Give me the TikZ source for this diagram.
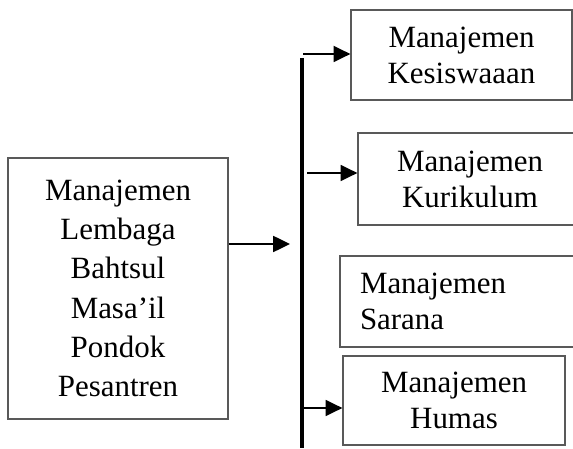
\documentclass[tikz,border=0pt]{standalone}
\usepackage{fontspec}
\setmainfont{Liberation Serif}
\usetikzlibrary{arrows.meta}
\tikzset{
  unitbox/.style={draw=black!65, line width=0.9pt, align=center, inner sep=0pt,
    font=\fontsize{22}{25.5}\selectfont},
  link/.style={line width=1.3pt, -{Triangle[length=0.42cm,width=0.4cm]}}
}

\begin{document}
\begin{tikzpicture}
  \useasboundingbox (0,0) rectangle (14.325,11.2);
  \node[unitbox, minimum width=5.5cm, minimum height=6.525cm,
    font=\fontsize{22}{28}\selectfont] (lembaga) at (2.95,3.9875)
    {Manajemen\\Lembaga\\Bahtsul\\Masa’il\\Pondok\\Pesantren};
  \node[unitbox, minimum width=5.525cm, minimum height=2.25cm] (kesiswaan) at (11.5375,9.825) {Manajemen\\Kesiswaaan};
  \node[unitbox, minimum width=5.6cm, minimum height=2.3cm] (kurikulum) at (11.75,6.725) {Manajemen\\Kurikulum};
  \node[unitbox, minimum width=6.25cm, minimum height=2.275cm, text width=5.25cm,
    inner xsep=0.5cm, align=left] (sarana) at (11.625,3.6625) {Manajemen\\Sarana};
  \node[unitbox, minimum width=5.55cm, minimum height=2.225cm] (humas) at (11.35,1.1875) {Manajemen\\Humas};
  % bus line
  \coordinate (bustop) at (7.55,9.75);
  \coordinate (busbot) at (7.55,0);
  \draw[line width=2.2pt] (bustop) -- (busbot);
  \coordinate (in) at (7.25,5.1);
  \draw[link] (lembaga.east |- in) -- (in);
  \coordinate (k1) at (7.575,9.85);
  \coordinate (k2) at (7.675,6.875);
  \coordinate (k4) at (7.55,1.0);
  \draw[link] (k1) -- (k1 -| kesiswaan.west);
  \draw[link] (k2) -- (k2 -| kurikulum.west);
  \draw[link] (k4) -- (k4 -| humas.west);
\end{tikzpicture}
\end{document}
